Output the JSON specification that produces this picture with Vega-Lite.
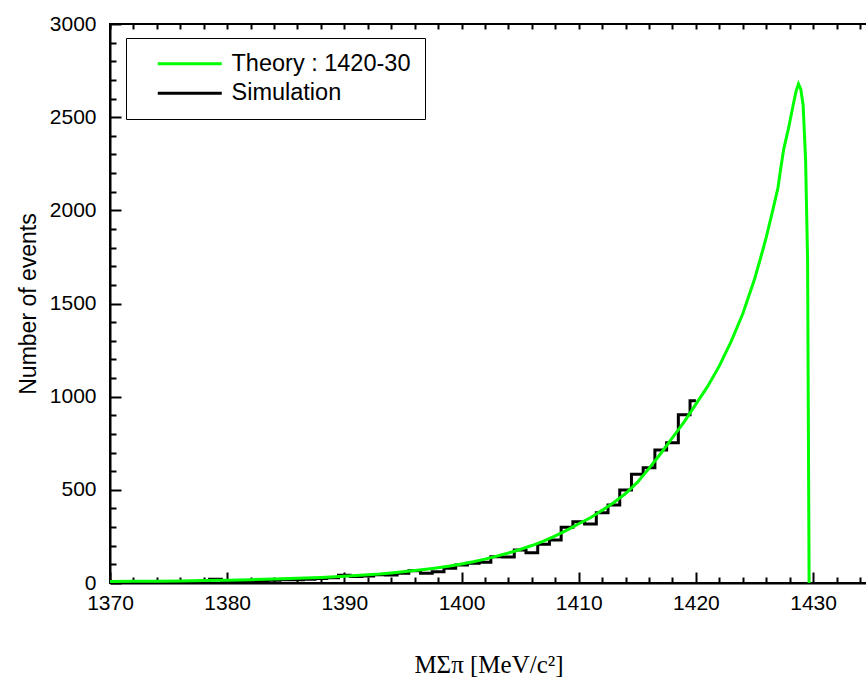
{
  "$schema": "https://vega.github.io/schema/vega-lite/v6.json",
  "autosize": {"type": "none"},
  "padding": {"left": 110, "top": 24, "right": 0, "bottom": 101},
  "width": 757,
  "height": 559,
  "background": "white",
  "config": {
    "view": {"stroke": "black", "strokeWidth": 2},
    "font": "Liberation Sans"
  },
  "datasets": {
    "theory": [
      {"x": 1370, "y": 8}, {"x": 1372, "y": 9}, {"x": 1374, "y": 10}, {"x": 1376, "y": 11}, {"x": 1378, "y": 13},
      {"x": 1380, "y": 15}, {"x": 1382, "y": 18}, {"x": 1384, "y": 21}, {"x": 1386, "y": 25}, {"x": 1388, "y": 30},
      {"x": 1390, "y": 36}, {"x": 1391, "y": 40}, {"x": 1392, "y": 44}, {"x": 1393, "y": 48}, {"x": 1394, "y": 54},
      {"x": 1395, "y": 60}, {"x": 1396, "y": 67}, {"x": 1397, "y": 74}, {"x": 1398, "y": 82}, {"x": 1399, "y": 91},
      {"x": 1400, "y": 102}, {"x": 1401, "y": 114}, {"x": 1402, "y": 128}, {"x": 1403, "y": 144}, {"x": 1404, "y": 161},
      {"x": 1405, "y": 180}, {"x": 1406, "y": 201}, {"x": 1407, "y": 225}, {"x": 1408, "y": 253}, {"x": 1409, "y": 284},
      {"x": 1410, "y": 318}, {"x": 1411, "y": 350}, {"x": 1412, "y": 390}, {"x": 1413, "y": 432}, {"x": 1414, "y": 480},
      {"x": 1415, "y": 540}, {"x": 1416, "y": 615}, {"x": 1417, "y": 695}, {"x": 1418, "y": 780}, {"x": 1419, "y": 865},
      {"x": 1420, "y": 960}, {"x": 1421, "y": 1055}, {"x": 1422, "y": 1165}, {"x": 1423, "y": 1295}, {"x": 1424, "y": 1445},
      {"x": 1425, "y": 1630}, {"x": 1425.5, "y": 1740}, {"x": 1426, "y": 1855}, {"x": 1426.5, "y": 1985}, {"x": 1427.0, "y": 2120},
      {"x": 1427.25, "y": 2230}, {"x": 1427.5, "y": 2330}, {"x": 1427.9, "y": 2440}, {"x": 1428.3, "y": 2565}, {"x": 1428.55, "y": 2640}, {"x": 1428.75, "y": 2678},
      {"x": 1428.95, "y": 2650}, {"x": 1429.15, "y": 2565}, {"x": 1429.36, "y": 2270}, {"x": 1429.53, "y": 1733}, {"x": 1429.66, "y": 0}
    ],
    "sim": [
      {"x": 1370, "y": 5}, {"x": 1370.5, "y": 5}, {"x": 1371.5, "y": 6}, {"x": 1372.5, "y": 6}, {"x": 1373.5, "y": 7},
      {"x": 1374.5, "y": 7}, {"x": 1375.5, "y": 8}, {"x": 1376.5, "y": 8}, {"x": 1377.5, "y": 9}, {"x": 1378.5, "y": 20},
      {"x": 1379.5, "y": 10}, {"x": 1380.5, "y": 11}, {"x": 1381.5, "y": 13}, {"x": 1382.5, "y": 14}, {"x": 1383.5, "y": 15},
      {"x": 1384.5, "y": 17}, {"x": 1385.5, "y": 18}, {"x": 1386.5, "y": 20}, {"x": 1387.5, "y": 24}, {"x": 1388.5, "y": 28},
      {"x": 1389.5, "y": 42}, {"x": 1390.5, "y": 35}, {"x": 1391.5, "y": 38}, {"x": 1392.5, "y": 44}, {"x": 1393.5, "y": 43},
      {"x": 1394.5, "y": 52}, {"x": 1395.5, "y": 66}, {"x": 1396.5, "y": 52}, {"x": 1397.5, "y": 61}, {"x": 1398.5, "y": 79},
      {"x": 1399.5, "y": 97}, {"x": 1400.5, "y": 106}, {"x": 1401.5, "y": 111}, {"x": 1402.5, "y": 141}, {"x": 1403.5, "y": 140},
      {"x": 1404.5, "y": 177}, {"x": 1405.5, "y": 163}, {"x": 1406.5, "y": 208}, {"x": 1407.5, "y": 231}, {"x": 1408.5, "y": 299},
      {"x": 1409.5, "y": 329}, {"x": 1410.5, "y": 317}, {"x": 1411.5, "y": 377}, {"x": 1412.5, "y": 419}, {"x": 1413.5, "y": 499},
      {"x": 1414.5, "y": 583}, {"x": 1415.5, "y": 619}, {"x": 1416.5, "y": 714}, {"x": 1417.5, "y": 753}, {"x": 1418.5, "y": 903},
      {"x": 1419.5, "y": 978}, {"x": 1420, "y": 978}
    ]
  },
  "layer": [
    {
      "data": {"name": "sim"},
      "transform": [{"calculate": "'Simulation'", "as": "series"}],
      "mark": {"type": "line", "interpolate": "step-after", "strokeWidth": 3, "clip": true},
      "encoding": {
        "x": {
          "field": "x", "type": "quantitative",
          "scale": {"domain": [1370, 1434.6], "nice": false, "zero": false},
          "axis": {
            "orient": "bottom",
            "values": [1370,1372,1374,1376,1378,1380,1382,1384,1386,1388,1390,1392,1394,1396,1398,1400,1402,1404,1406,1408,1410,1412,1414,1416,1418,1420,1422,1424,1426,1428,1430,1432,1434],
            "format": "d",
            "labelExpr": "datum.value % 10 === 0 ? datum.label : ''",
            "labelOverlap": false,
            "labelFlush": false,
            "tickSize": {"condition": {"test": "datum.value % 10 === 0", "value": -11}, "value": -6},
            "tickWidth": 2, "tickColor": "black",
            "domainColor": "black", "domainWidth": 2,
            "grid": false,
            "labelFont": "Liberation Sans", "labelFontSize": 21, "labelColor": "black", "labelPadding": 20,
            "title": "MΣπ [MeV/c²]",
            "titleFont": "Liberation Serif", "titleFontSize": 25, "titleFontWeight": "normal", "titleColor": "black",
            "titlePadding": 34
          }
        },
        "y": {
          "field": "y", "type": "quantitative",
          "scale": {"domain": [0, 3000], "nice": false},
          "axis": {
            "values": [0,100,200,300,400,500,600,700,800,900,1000,1100,1200,1300,1400,1500,1600,1700,1800,1900,2000,2100,2200,2300,2400,2500,2600,2700,2800,2900,3000],
            "format": "d",
            "labelExpr": "datum.value % 500 === 0 ? datum.label : ''",
            "labelOverlap": false,
            "labelFlush": false,
            "tickSize": {"condition": {"test": "datum.value % 500 === 0", "value": -11}, "value": -6},
            "tickWidth": 2, "tickColor": "black",
            "domainColor": "black", "domainWidth": 2,
            "grid": false,
            "labelFont": "Liberation Sans", "labelFontSize": 21, "labelColor": "black", "labelPadding": 25,
            "title": "Number of events",
            "titleFont": "Liberation Sans", "titleFontSize": 23, "titleFontWeight": "normal", "titleColor": "black",
            "titlePadding": 9
          }
        },
        "color": {
          "field": "series", "type": "nominal",
          "scale": {"domain": ["Theory : 1420-30", "Simulation"], "range": ["#00ff00", "#000000"]},
          "legend": {
            "orient": "none", "legendX": 16, "legendY": 14, "title": null,
            "symbolType": "M-3.2,0H3.2", "symbolSize": 400, "symbolStrokeWidth": 3,
            "labelFont": "Liberation Sans", "labelFontSize": 23.5, "labelColor": "black", "labelOffset": 30, "labelLimit": 400,
            "strokeColor": "black", "fillColor": "white",
            "padding": 14, "rowPadding": 4.5, "symbolOffset": 38
          }
        }
      }
    },
    {
      "data": {"name": "theory"},
      "transform": [{"calculate": "'Theory : 1420-30'", "as": "series"}],
      "mark": {"type": "line", "strokeWidth": 3, "clip": true},
      "encoding": {
        "x": {
          "field": "x", "type": "quantitative",
          "scale": {"domain": [1370, 1434.6], "nice": false, "zero": false},
          "axis": {
            "orient": "top",
            "values": [1370,1372,1374,1376,1378,1380,1382,1384,1386,1388,1390,1392,1394,1396,1398,1400,1402,1404,1406,1408,1410,1412,1414,1416,1418,1420,1422,1424,1426,1428,1430,1432,1434],
            "labels": false, "domain": false, "grid": false, "title": null,
            "tickSize": -5, "tickWidth": 2, "tickColor": "black"
          }
        },
        "y": {
          "field": "y", "type": "quantitative",
          "scale": {"domain": [0, 3000], "nice": false},
          "axis": {
            "values": [0,100,200,300,400,500,600,700,800,900,1000,1100,1200,1300,1400,1500,1600,1700,1800,1900,2000,2100,2200,2300,2400,2500,2600,2700,2800,2900,3000],
            "format": "d",
            "labelExpr": "datum.value % 500 === 0 ? datum.label : ''",
            "labelOverlap": false,
            "labelFlush": false,
            "tickSize": {"condition": {"test": "datum.value % 500 === 0", "value": -11}, "value": -6},
            "tickWidth": 2, "tickColor": "black",
            "domainColor": "black", "domainWidth": 2,
            "grid": false,
            "labelFont": "Liberation Sans", "labelFontSize": 21, "labelColor": "black", "labelPadding": 25,
            "title": "Number of events",
            "titleFont": "Liberation Sans", "titleFontSize": 23, "titleFontWeight": "normal", "titleColor": "black",
            "titlePadding": 9
          }
        },
        "color": {
          "field": "series", "type": "nominal",
          "scale": {"domain": ["Theory : 1420-30", "Simulation"], "range": ["#00ff00", "#000000"]},
          "legend": {
            "orient": "none", "legendX": 16, "legendY": 14, "title": null,
            "symbolType": "M-3.2,0H3.2", "symbolSize": 400, "symbolStrokeWidth": 3,
            "labelFont": "Liberation Sans", "labelFontSize": 23.5, "labelColor": "black", "labelOffset": 30, "labelLimit": 400,
            "strokeColor": "black", "fillColor": "white",
            "padding": 14, "rowPadding": 4.5, "symbolOffset": 38
          }
        }
      }
    }
  ],
  "resolve": {"axis": {"x": "independent"}}
}
